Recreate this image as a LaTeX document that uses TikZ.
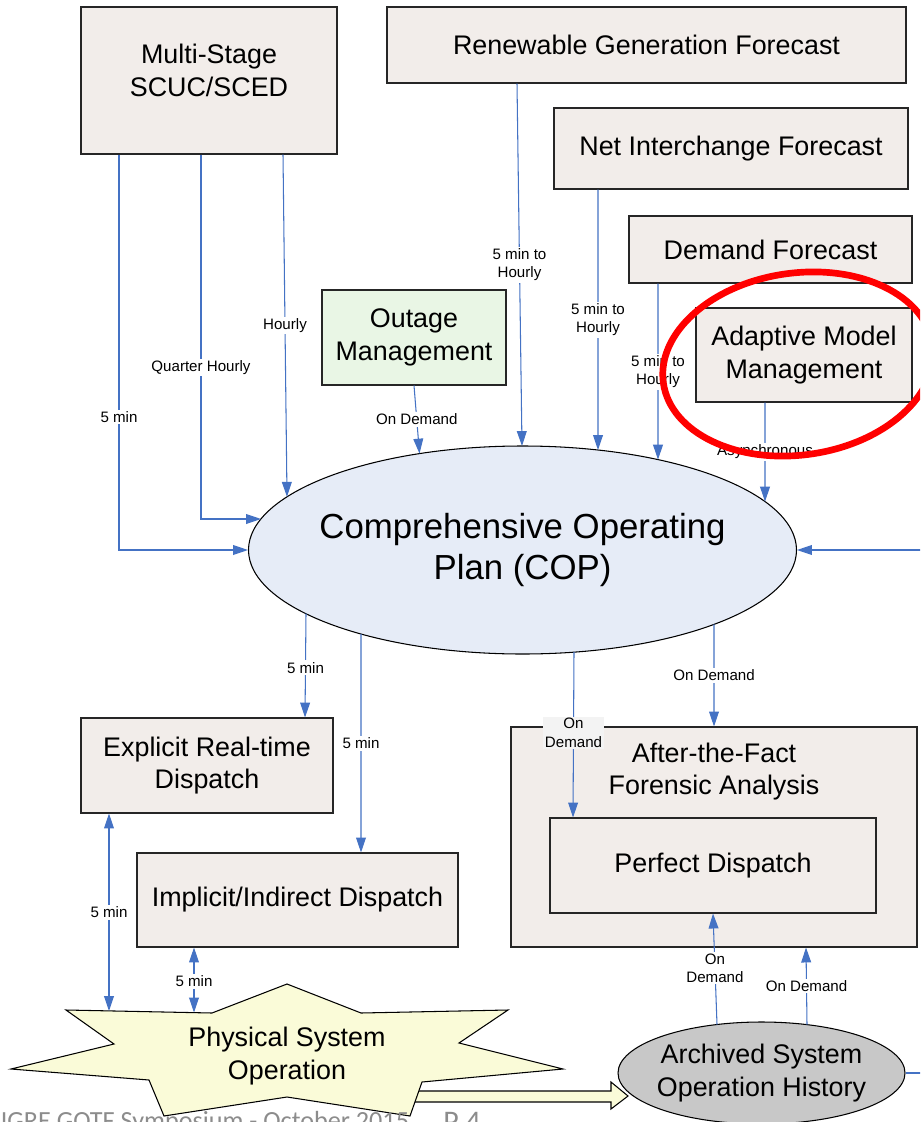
\documentclass[tikz,border=0pt]{standalone}
\usepackage{fontspec}
\setmainfont{Liberation Sans}
\newfontfamily\dgfoot{Carlito}
\usetikzlibrary{shapes.geometric,arrows.meta,calc}
\definecolor{boxfill}{RGB}{242,237,234}
\definecolor{outfill}{RGB}{233,246,229}
\definecolor{copfill}{RGB}{230,236,247}
\definecolor{archfill}{RGB}{200,200,200}
\definecolor{starfill}{RGB}{250,251,216}
\definecolor{conblue}{RGB}{68,114,196}
\definecolor{lblgray}{RGB}{243,243,243}
\definecolor{footgray}{RGB}{140,140,140}
\newcommand\dgbig{\fontsize{15.3pt}{18.7pt}\selectfont}
\newcommand\dgcop{\fontsize{19.8pt}{23.8pt}\selectfont}
\newcommand\dglbl{\fontsize{8.6pt}{10.4pt}\selectfont}
\begin{document}
\begin{tikzpicture}[x=0.02cm,y=-0.02cm,
  sz/.style 2 args={minimum width=#1*0.02cm, minimum height=#2*0.02cm},
  box/.style={draw=black!85, line width=0.6pt, fill=boxfill, inner sep=0pt, align=center, font=\dgbig},
  txt/.style={inner sep=0pt, align=center, font=\dgbig},
  coptxt/.style={inner sep=0pt, align=center, font=\dgcop},
  copell/.style={ellipse, draw=black, line width=0.6pt, fill=copfill, sz={548}{208}, inner sep=0pt},
  archell/.style={ellipse, draw=black, line width=0.6pt, fill=archfill, sz={287}{102}, inner sep=0pt},
  starsty/.style={draw=black, line width=0.6pt, fill=starfill, line join=miter},
  conn/.style={draw=conblue, line width=0.6pt, -{Triangle[length=8.5pt,width=5.6pt]}},
  dconn/.style={draw=conblue, line width=0.6pt, {Triangle[length=8.5pt,width=5.6pt]}-{Triangle[length=8.5pt,width=5.6pt]}},
  lbl/.style={font=\dglbl, fill=white, inner sep=1pt, align=center, text=black, midway},
  foot/.style={anchor=base west, inner sep=0pt, text=footgray}
]
\useasboundingbox (0,0) rectangle (920,1122);
\clip (0,0) rectangle (920,1122);
\fill[white] (0,0) rectangle (920,1122);

% boxes
\node[box, sz={256}{147}] (scuc) at (209,80.5) {};
\node[txt] (scuctext) at (209,70.5) {Multi-Stage\\SCUC/SCED};
\node[box, sz={519}{76}] (renew) at (646.5,45) {Renewable Generation Forecast};
\node[box, sz={354}{81}] (netint) at (731,148.5) {Net Interchange Forecast};
\node[box, sz={283}{67}] (demand) at (770.5,249.5) {Demand Forecast};
\node[box, sz={216}{94}] (adapt) at (804,355) {Adaptive Model\\Management};
\node[box, fill=outfill, sz={184}{95}] (outage) at (414,337.5) {Outage\\Management};
\node[copell] (cop) at (522.5,550) {};
\node[coptxt] (coptext) at (cop.center) {Comprehensive Operating\\Plan (COP)};
\node[box, sz={252}{95}] (explicit) at (207,765.5) {Explicit Real-time\\Dispatch};
\node[box, sz={321}{94}] (implicit) at (297.5,900) {Implicit/Indirect Dispatch};
\node[box, sz={406}{220}] (atf) at (714,837) {};
\node[txt] (atftext) at (714,771.5) {After-the-Fact\\Forensic Analysis};
\node[box, sz={326}{95}] (perfect) at (713,865.5) {Perfect Dispatch};
\node[archell] (arch) at (761.5,1073) {};
\node[txt] (archtext) at (arch.center) {Archived System\\Operation History};

% hollow block arrow from the star to the archive
\draw[starsty] (414,1091) -- (611,1091) -- (611,1082) -- (628,1096) -- (611,1109) -- (611,1102) -- (414,1102) -- cycle;

% star
\draw[starsty] (287,984) -- (361,1013) -- (508,1010) -- (459,1043) -- (563,1069) -- (422,1082)
  -- (410,1116) -- (287,1097) -- (164,1116) -- (149,1080) -- (11,1069) -- (114,1044)
  -- (66,1010) -- (212,1013) -- cycle;
\node[txt] (pso) at (287,1056) {Physical System\\Operation};
\coordinate (psoA) at (109,1011);
\coordinate (psoB) at (194,1012.5);

% connectors into the COP
\draw[conn] ($(scuc.south)+(-90,0)$) |- node[lbl,pos=0.332]{5 min} (cop.west);
\draw[conn] ($(scuc.south)+(-8,0)$) |- node[lbl,pos=0.292]{Quarter Hourly} ($(cop.center)+(-261.5,-31)$);
\draw[conn] ($(scuc.south)+(74,0)$) -- node[lbl]{Hourly} ($(cop.center)+(-235.5,-53.2)$);
\draw[conn] (outage.south) -- node[lbl]{On Demand} ($(cop.center)+(-103,-96.4)$);
\draw[conn] ($(renew.south)+(-129.5,0)$) -- node[lbl]{5 min to\\Hourly} ($(cop.center)+(-0.5,-104)$);
\draw[conn] ($(netint.south)+(-133,0)$) -- node[lbl]{5 min to\\Hourly} ($(cop.center)+(75.5,-100)$);
\draw[conn] ($(demand.south)+(-112.5,0)$) -- node[lbl]{5 min to\\Hourly} ($(cop.center)+(135.5,-90.4)$);
\draw[conn] ($(adapt.south)+(-39,0)$) -- node[lbl]{Asynchronous} ($(cop.center)+(242.5,-48.4)$);
\draw[conn] (arch.east) -- ++(40,0) |- (cop.east);

% connectors out of the COP
\draw[conn] ($(cop.center)+(-216.5,63.7)$) -- node[lbl,pos=0.52]{5 min} ($(explicit.north)+(98,0)$);
\draw[conn] ($(cop.center)+(-161.5,84)$) -- node[lbl]{5 min} ($(implicit.north)+(63.5,0)$);
\draw[conn] ($(cop.center)+(51.5,102)$) -- node[lbl,fill=lblgray,pos=0.488]{On\\Demand} ($(perfect.north)+(-140,0)$);
\draw[conn] ($(cop.center)+(191.5,74.4)$) -- node[lbl]{On Demand} (atf.north);

% dispatch <-> physical system
\draw[dconn] ($(explicit.south)+(-98,0)$) -- node[lbl]{5 min} (psoA);
\draw[dconn] ($(implicit.south)+(-103.5,0)$) -- node[lbl,pos=0.52]{5 min} (psoB);

% archive -> forensic analysis
\draw[conn] ($(arch.center)+(-44.5,-48.5)$) -- node[lbl,pos=0.507]{On\\Demand} (perfect.south);
\draw[conn] ($(arch.center)+(45.5,-48.4)$) -- node[lbl]{On Demand} ($(atf.south)+(92,0)$);

% red highlight
\draw[red, line width=3.8pt, rotate around={8:(798,364)}] (798,364) ellipse [x radius=2.72cm, y radius=1.82cm];

% footer (cut by the lower edge)
\node[foot, font=\dgfoot\fontsize{14.9pt}{17pt}\selectfont] (footer) at (-13.5,1129) {CIGRE GOTF Symposium - October 2015};
\node[foot, font=\dgfoot\fontsize{17pt}{19pt}\selectfont] (pagenum) at (443,1131) {P 4};
\end{tikzpicture}
\end{document}
